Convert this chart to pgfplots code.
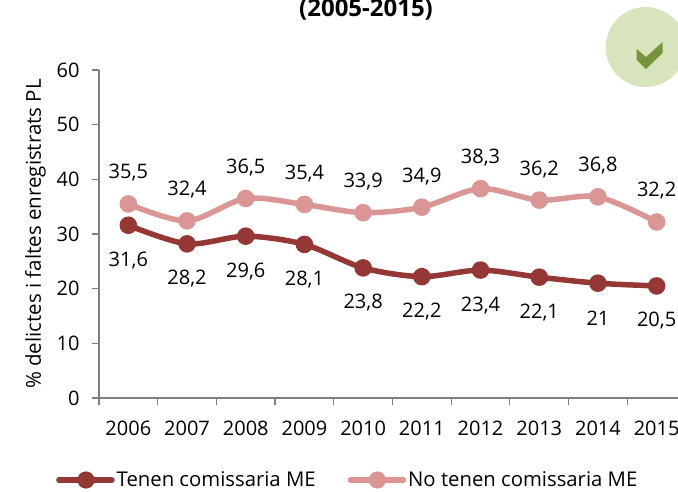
\documentclass[border=0pt]{standalone}
\usepackage{pgfplots}
\pgfplotsset{compat=1.18}
\usepackage{fontspec}
\setmainfont{Open Sans}
\definecolor{darkred}{HTML}{953735}
\definecolor{lightred}{HTML}{D99694}
\definecolor{circ}{HTML}{D7E4BD}
\definecolor{chk}{HTML}{77933C}
\begin{document}
\begin{tikzpicture}[x=1pt,y=1pt]
\path[use as bounding box] (0,0) rectangle (678,491);
\begin{scope}
\clip (0,0) rectangle (678,491);
\fill[circ] (645.7,444) circle (40);
\fill[chk] (636.7,442) -- (646,434) -- (662.7,449) -- (662.7,438) -- (646,422) -- (636.7,431) -- cycle;
\node[font=\fontsize{24}{26}\selectfont\bfseries,anchor=center] at (366,481) {(2005-2015)};
\end{scope}
\begin{axis}[at={(99pt,93pt)},anchor=south west,width=579pt,height=328pt,scale only axis,
xmin=0,xmax=9.864,ymin=0,ymax=60,
xtick={0,...,9},xticklabels={},
extra x ticks={0.5,1.5,2.5,3.5,4.5,5.5,6.5,7.5,8.5,9.5},
extra x tick labels={2006,2007,2008,2009,2010,2011,2012,2013,2014,2015},
extra x tick style={major tick length=0pt,tick label style={yshift=-19pt}},
ytick={0,10,...,60},
axis y line*=left,axis x line*=bottom,
axis line style={draw=black!50,line width=1.2pt,-},
tick style={draw=black!50,line width=1.2pt},
tick align=outside,major tick length=7pt,
tick label style={font=\fontsize{20}{22}\selectfont,text=black},
yticklabel style={xshift=-9pt},
/pgf/number format/assume math mode=true,
ylabel={\% delictes i faltes enregistrats PL},
ylabel style={font=\fontsize{20.5}{22}\selectfont,yshift=4pt},
clip=false,
nodes near coords,
point meta=explicit symbolic,
every node near coord/.append style={font=\fontsize{20}{22}\selectfont,text=black},
legend columns=2,
legend style={draw=none,fill=none,at={(-46pt,-82pt)},anchor=west,font=\fontsize{20.3}{22}\selectfont,/tikz/every even column/.append style={column sep=30pt}},
legend cell align=left,
legend image code/.code={\draw[#1,mark=none,line width=5.5pt,line cap=round] (0pt,0pt) -- (53pt,0pt); \fill[#1,mark=none] (27pt,0pt) circle (5.8pt);},
]
\addplot[color=darkred,line width=5.5pt,smooth,tension=0.5,mark=*,mark size=6pt,mark options={fill=darkred,draw=none},nodes near coords align={anchor=center,yshift=-35pt}] table[meta=m,row sep=\\]{
x y m\\
0.5 31.6 {31,6}\\
1.5 28.2 {28,2}\\
2.5 29.6 {29,6}\\
3.5 28.1 {28,1}\\
4.5 23.8 {23,8}\\
5.5 22.2 {22,2}\\
6.5 23.4 {23,4}\\
7.5 22.1 {22,1}\\
8.5 21 {21}\\
9.5 20.5 {20,5}\\
};
\addlegendentry{Tenen comissaria ME}
\addplot[color=lightred,line width=5.5pt,smooth,tension=0.5,mark=*,mark size=6pt,mark options={fill=lightred,draw=none},nodes near coords align={anchor=center,yshift=31pt}] table[meta=m,row sep=\\]{
x y m\\
0.5 35.5 {35,5}\\
1.5 32.4 {32,4}\\
2.5 36.5 {36,5}\\
3.5 35.4 {35,4}\\
4.5 33.9 {33,9}\\
5.5 34.9 {34,9}\\
6.5 38.3 {38,3}\\
7.5 36.2 {36,2}\\
8.5 36.8 {36,8}\\
9.5 32.2 {32,2}\\
};
\addlegendentry{No tenen comissaria ME}
\end{axis}
\end{tikzpicture}
\end{document}
